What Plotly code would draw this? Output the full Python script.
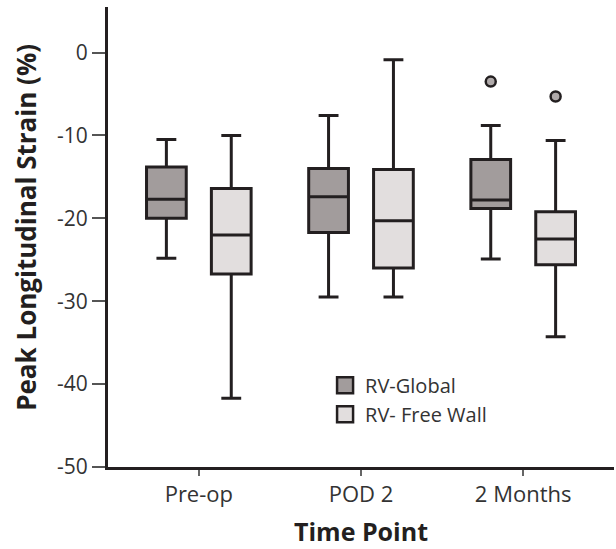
import plotly.graph_objects as go

categories = ["Pre-op", "POD 2", "2 Months"]
series_names = ["RV-Global", "RV- Free Wall"]

global_upper = [-10.5, -7.6, -8.8]
global_q3 = [-13.8, -14.0, -12.9]
global_median = [-17.7, -17.4, -17.8]
global_q1 = [-20.0, -21.7, -18.8]
global_lower = [-24.8, -29.5, -24.9]
global_outliers = [None, None, -3.5]

free_upper = [-10.0, -0.85, -10.6]
free_q3 = [-16.4, -14.1, -19.2]
free_median = [-22.0, -20.3, -22.5]
free_q1 = [-26.7, -26.0, -25.6]
free_lower = [-41.7, -29.5, -34.3]
free_outliers = [None, None, -5.3]

y_ticks = [0, -10, -20, -30, -40, -50]
y_tick_labels = ["0", "-10", "-20", "-30", "-40", "-50"]

fills = ["#a29c9c", "#e2dede"]
line_col = "#231f20"
offset = 0.2
bw = 0.245
FONT = "Open Sans"

fig = go.Figure()
stats = [
    (global_lower, global_q1, global_median, global_q3, global_upper, global_outliers),
    (free_lower, free_q1, free_median, free_q3, free_upper, free_outliers),
]
for s, (lo, q1, med, q3, up, outl) in enumerate(stats):
    sign = -1 if s == 0 else 1
    for i, cat in enumerate(categories):
        xpos = i + sign * offset
        fig.add_trace(go.Box(
            x=[xpos], q1=[q1[i]], median=[med[i]], q3=[q3[i]],
            lowerfence=[lo[i]], upperfence=[up[i]],
            width=bw, whiskerwidth=0.5,
            fillcolor=fills[s], line=dict(color=line_col, width=3),
            name=series_names[s], legendgroup=series_names[s],
            showlegend=False, boxpoints=False, hoverinfo="skip",
        ))
        if outl[i] is not None:
            fig.add_trace(go.Scatter(
                x=[xpos], y=[outl[i]], mode="markers",
                marker=dict(symbol="circle", size=10, color="#b0aaaa",
                            line=dict(color=line_col, width=2.5)),
                showlegend=False, hoverinfo="skip",
            ))
    # legend entry
    fig.add_trace(go.Scatter(
        x=[None], y=[None], mode="markers", name=series_names[s],
        legendgroup=series_names[s],
        marker=dict(symbol="square", size=16, color=fills[s],
                    line=dict(color=line_col, width=2.5)),
        showlegend=True, hoverinfo="skip",
    ))

fig.update_layout(
    width=616, height=549,
    margin=dict(l=108, r=2, t=7, b=82),
    paper_bgcolor="white", plot_bgcolor="white",
    boxmode="overlay",
    font=dict(family=FONT, size=21, color="#333333"),
    legend=dict(x=0.429, y=0.22, xanchor="left", yanchor="top",
                bgcolor="rgba(0,0,0,0)", font=dict(size=20, color="#333333"),
                itemwidth=30, tracegroupgap=0, itemsizing="trace"),
    xaxis=dict(
        range=[-0.56, 2.56], tickmode="array",
        tickvals=list(range(len(categories))), ticktext=categories,
        showline=True, linecolor=line_col, linewidth=3,
        ticks="outside", ticklen=6, tickcolor="#666", tickwidth=1.5,
        showgrid=False, zeroline=False, automargin=False,
        tickfont=dict(size=22),
    ),
    yaxis=dict(
        range=[-50, 5.5], tickmode="array", tickvals=y_ticks, ticktext=y_tick_labels,
        showline=True, linecolor=line_col, linewidth=3,
        ticks="outside", ticklen=13, tickcolor="#555", tickwidth=1.5,
        showgrid=False, zeroline=False, automargin=False,
        tickfont=dict(size=21),
    ),
    annotations=[
        dict(text="<b>Peak Longitudinal Strain (%)</b>", xref="paper", yref="paper",
             x=-0.162, y=0.52, xanchor="center", yanchor="middle", textangle=-90,
             showarrow=False, font=dict(family=FONT, size=26, color="#231f20")),
        dict(text="<b>Time Point</b>", xref="paper", yref="paper",
             x=0.5, y=-0.139, xanchor="center", yanchor="middle",
             showarrow=False, font=dict(family=FONT, size=25, color="#231f20")),
    ],
)

fig.write_html("out.html", config={"displayModeBar": False},
               post_script="document.body.style.margin='0';")
